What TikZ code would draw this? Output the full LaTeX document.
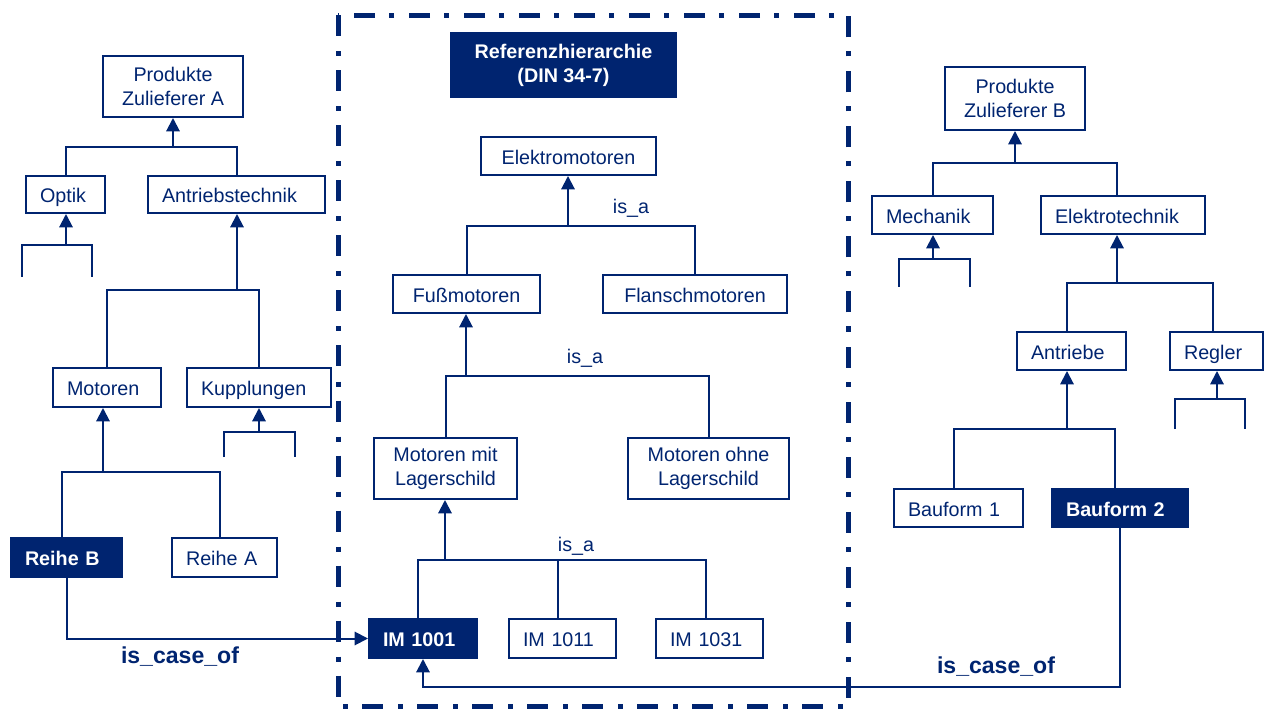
\documentclass[tikz,border=0pt]{standalone}
\usepackage{fontspec}
\setmainfont{Liberation Sans}
\usetikzlibrary{arrows.meta}
\definecolor{navy}{RGB}{0,36,112}
\begin{document}
\begin{tikzpicture}[x=0.75pt,y=-0.75pt,
  box/.style={draw=navy, line width=1.5pt, text=navy, font=\fontsize{14.8}{18}\selectfont, inner sep=0pt, align=center},
  cbox/.style 2 args={box, minimum width=#1, minimum height=#2},
  oneline/.style={text height=12.1pt, text depth=0pt},
  lbox/.style 2 args={box, oneline, align=left, inner xsep=10.5pt, text width=#1, minimum height=#2},
  dark/.style={fill=navy, text=white, font=\fontsize{14.8}{18}\selectfont\bfseries},
  conn/.style={draw=navy, line width=1.5pt},
  arr/.style={conn, -{Triangle[length=10pt,width=10pt]}},
  lbl/.style={text=navy, font=\fontsize{14.8}{18}\selectfont, inner sep=0pt},
  big/.style={text=navy, font=\fontsize{17.3}{20}\selectfont\bfseries, inner sep=0pt}]
\useasboundingbox (0,0) rectangle (1264,709);

% reference frame
\draw[navy, line width=3.75pt, dash pattern=on 15.75pt off 11.25pt on 3.75pt off 10.5pt] (338,15.5) rectangle (848,706.5);

% left tree
\node[cbox={105pt}{45.75pt}] (pzA) at (173,86.5) {Produkte\\Zulieferer A};
\node[lbox={38.25pt}{27.75pt}] (optik) at (65.5,194.5) {Optik};
\node[lbox={111.75pt}{27.75pt}] (antrieb) at (236.5,194.5) {Antriebstechnik};
\node[lbox={60pt}{29.25pt}] (motoren) at (107,387.5) {Motoren};
\node[lbox={87pt}{29.25pt}] (kupp) at (259,387.5) {Kupplungen};
\node[lbox={62.25pt}{29.25pt}, dark] (reiheB) at (66.5,557.5) {Reihe B};
\node[lbox={57.75pt}{29.25pt}] (reiheA) at (224.5,557.5) {Reihe A};

% centre tree
\node[cbox={168.75pt}{48pt}, dark] (ref) at (563.5,65) {Referenzhierarchie\\(DIN 34-7)};
\node[cbox={131.25pt}{28.5pt}, oneline] (elektro) at (568.5,156) {Elektromotoren};
\node[cbox={110.25pt}{28.5pt}, oneline] (fuss) at (466.5,294) {Fußmotoren};
\node[cbox={138pt}{28.5pt}, oneline] (flansch) at (695,294) {Flanschmotoren};
\node[cbox={107.25pt}{45.75pt}] (mmit) at (445.5,468.5) {Motoren mit\\Lagerschild};
\node[cbox={120.75pt}{45.75pt}] (mohne) at (708.5,468.5) {Motoren ohne\\Lagerschild};
\node[lbox={60pt}{29.25pt}, dark] (im1001) at (423,638.5) {IM 1001};
\node[lbox={59.25pt}{29.25pt}] (im1011) at (562.5,638.5) {IM 1011};
\node[lbox={59.25pt}{29.25pt}] (im1031) at (709.5,638.5) {IM 1031};

% right tree
\node[cbox={105pt}{47.25pt}] (pzB) at (1015,98.5) {Produkte\\Zulieferer B};
\node[lbox={69.75pt}{28.5pt}] (mech) at (932.5,215) {Mechanik};
\node[lbox={102pt}{28.5pt}] (etech) at (1123,215) {Elektrotechnik};
\node[lbox={60.75pt}{28.5pt}] (antriebe) at (1071.5,351) {Antriebe};
\node[lbox={48.75pt}{28.5pt}] (regler) at (1216.5,351) {Regler};
\node[lbox={75.75pt}{28.5pt}] (bau1) at (958.5,508) {Bauform 1};
\node[lbox={81pt}{28.5pt}, dark] (bau2) at (1120,508) {Bauform 2};

% junctions
\coordinate (jA) at (173,147);
\coordinate (jO) at (66,245); \coordinate (oL) at (22,277); \coordinate (oR) at (92,277);
\coordinate (jAt) at (237,290);
\coordinate (jK) at (259,432); \coordinate (kL) at (224,457); \coordinate (kR) at (295,457);
\coordinate (jM) at (103,472);
\coordinate (jE) at (568,226);
\coordinate (jF) at (466,376);
\coordinate (jL) at (445,560);
\coordinate (jB) at (1015,163);
\coordinate (jMe) at (933,259); \coordinate (meL) at (899,287); \coordinate (meR) at (970,287);
\coordinate (jEt) at (1117,283);
\coordinate (jR) at (1217,399); \coordinate (rL) at (1175,429); \coordinate (rR) at (1245,429);
\coordinate (jAn) at (1067,429);
\coordinate (cB) at (1120,687);

% left connectors
\draw[arr] (jA) -- (jA |- pzA.south);
\draw[conn] (optik.north) |- (jA) -| (antrieb.north);
\draw[arr] (jO) -- (jO |- optik.south);
\draw[conn] (oL) |- (jO) -| (oR);
\draw[arr] (jAt) -- (jAt |- antrieb.south);
\draw[conn] (motoren.north) |- (jAt) -| (kupp.north);
\draw[arr] (jK) -- (jK |- kupp.south);
\draw[conn] (kL) |- (jK) -| (kR);
\draw[arr] (jM) -- (jM |- motoren.south);
\draw[conn] ([xshift=-3.4pt]reiheB.north) |- (jM) -| ([xshift=-3.4pt]reiheA.north);
\draw[arr] (reiheB.south) |- (im1001.west);

% centre connectors
\draw[arr] (jE) -- (jE |- elektro.south);
\draw[conn] (fuss.north) |- (jE) -| (flansch.north);
\draw[arr] (jF) -- (jF |- fuss.south);
\draw[conn] (mmit.north) |- (jF) -| (mohne.north);
\draw[arr] (jL) -- (jL |- mmit.south);
\draw[conn] ([xshift=-3.75pt]im1001.north) |- (jL) -| ([xshift=-2.6pt]im1031.north);
\draw[conn] ([xshift=-3.4pt]im1011.north) -- ([xshift=-3.4pt]im1011.north |- jL);
\draw[arr] (bau2.south) -- (cB) -| (im1001.south);

% right connectors
\draw[arr] (jB) -- (jB |- pzB.south);
\draw[conn] (mech.north) |- (jB) -| ([xshift=-4.5pt]etech.north);
\draw[arr] (jMe) -- (jMe |- mech.south);
\draw[conn] (meL) |- (jMe) -| (meR);
\draw[arr] (jEt) -- (jEt |- etech.south);
\draw[conn] ([xshift=-3.4pt]antriebe.north) |- (jEt) -| ([xshift=-2.6pt]regler.north);
\draw[arr] (jR) -- (jR |- regler.south);
\draw[conn] (rL) |- (jR) -| (rR);
\draw[arr] (jAn) -- (jAn |- antriebe.south);
\draw[conn] ([xshift=-3.4pt]bau1.north) |- (jAn) -| ([xshift=-3.75pt]bau2.north);

% labels
\node[lbl] (isa1) at (631,208) {is\_a};
\node[lbl] (isa2) at (585,358) {is\_a};
\node[lbl] (isa3) at (576,546) {is\_a};
\node[big] (ico1) at (180,657) {is\_case\_of};
\node[big] (ico2) at (996,667) {is\_case\_of};
\end{tikzpicture}
\end{document}
